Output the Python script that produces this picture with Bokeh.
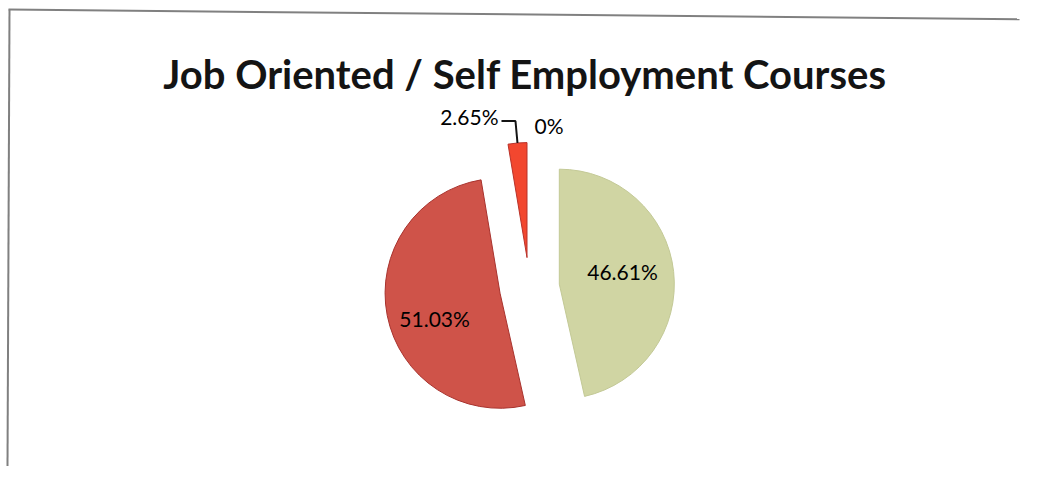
import numpy as np
from bokeh.plotting import figure
from bokeh.models import Range1d, ColumnDataSource
from bokeh.core.properties import value
from bokeh.embed import file_html
from bokeh.resources import INLINE

# ---- data ----
title_text = "Job Oriented / Self Employment Courses"
categories = ["Category A", "Category B", "Category C", "Category D"]
percents = [46.61, 51.03, 2.65, 0.0]
labels = ["46.61%", "51.03%", "2.65%", "0%"]
fill_colors = ["#d0d5a3", "#cf5349", "#f2472f", "#f2472f"]
line_colors = ["#c3c996", "#a8332e", "#b8322a", "#b8322a"]

# ---- geometry (pixel-like coordinates, y up) ----
W, H = 1022, 466
cx, cy = 529, 179
R = 115
EXPLODE = 30
label_frac = [0.56, 0.61]
label_shift_deg = [-5, -10]

vals = np.array(percents, dtype=float)
frac = vals / vals.sum()
ends = np.cumsum(frac) * 2 * np.pi          # clockwise from 12 o'clock
starts = ends - frac * 2 * np.pi
mids = (starts + ends) / 2
start_ang = np.pi / 2 - ends                # bokeh: ccw from +x
end_ang = np.pi / 2 - starts
dx = np.sin(mids)
dy = np.cos(mids)
ax = cx + EXPLODE * dx
ay = cy + EXPLODE * dy

p = figure(width=W, height=H, x_range=Range1d(0, W), y_range=Range1d(0, H),
           output_backend="svg", toolbar_location=None, min_border=0)
p.axis.visible = False
p.grid.visible = False
p.outline_line_color = None
p.background_fill_color = "white"
p.border_fill_color = "white"

# frame (slightly tilted, like the scanned original)
p.line([8, W - 3], [457, 447.2], line_color="#808080", line_width=2)
p.line([9, 7], [457, 0], line_color="#808080", line_width=2)

keep = vals > 0
src = ColumnDataSource(dict(x=ax[keep], y=ay[keep], s=start_ang[keep], e=end_ang[keep],
                            fill=np.array(fill_colors)[keep], line=np.array(line_colors)[keep],
                            cat=np.array(categories)[keep]))
p.wedge(x="x", y="y", radius=R, start_angle="s", end_angle="e",
        fill_color="fill", line_color="line", line_width=1, source=src)

# title
p.text(x=[524.5], y=[393], text=[title_text], text_font=value("Lato"),
       text_font_style="bold", text_font_size="40px", text_color="#141414",
       text_align="center", text_baseline="alphabetic")

font = value("Lato")
# inside labels (big slices)
for i in (0, 1):
    a = mids[i] + np.deg2rad(label_shift_deg[i])
    lx = ax[i] + label_frac[i] * R * np.sin(a)
    ly = ay[i] + label_frac[i] * R * np.cos(a)
    p.text(x=[lx], y=[ly], text=[labels[i]], text_font=font, text_font_size="21px",
           text_color="#000000", text_align="center", text_baseline="middle")

# outside label with leader for the small slice
i = 2
ox = ax[i] + R * dx[i]
oy = ay[i] + R * dy[i]
p.line([ox, ox - 2, ox - 16], [oy, oy + 22, oy + 22], line_color="#141414", line_width=2)
p.text(x=[ox - 19], y=[oy + 26], text=[labels[i]], text_font=font, text_font_size="21px",
       text_color="#000000", text_align="right", text_baseline="middle")

# zero slice label
i = 3
zx = ax[i] + R * dx[i]
zy = ay[i] + R * dy[i]
p.text(x=[zx + 5], y=[zy + 17], text=[labels[i]], text_font=font, text_font_size="21px",
       text_color="#000000", text_align="left", text_baseline="middle")

open("out.html", "w").write(file_html(p, INLINE))
